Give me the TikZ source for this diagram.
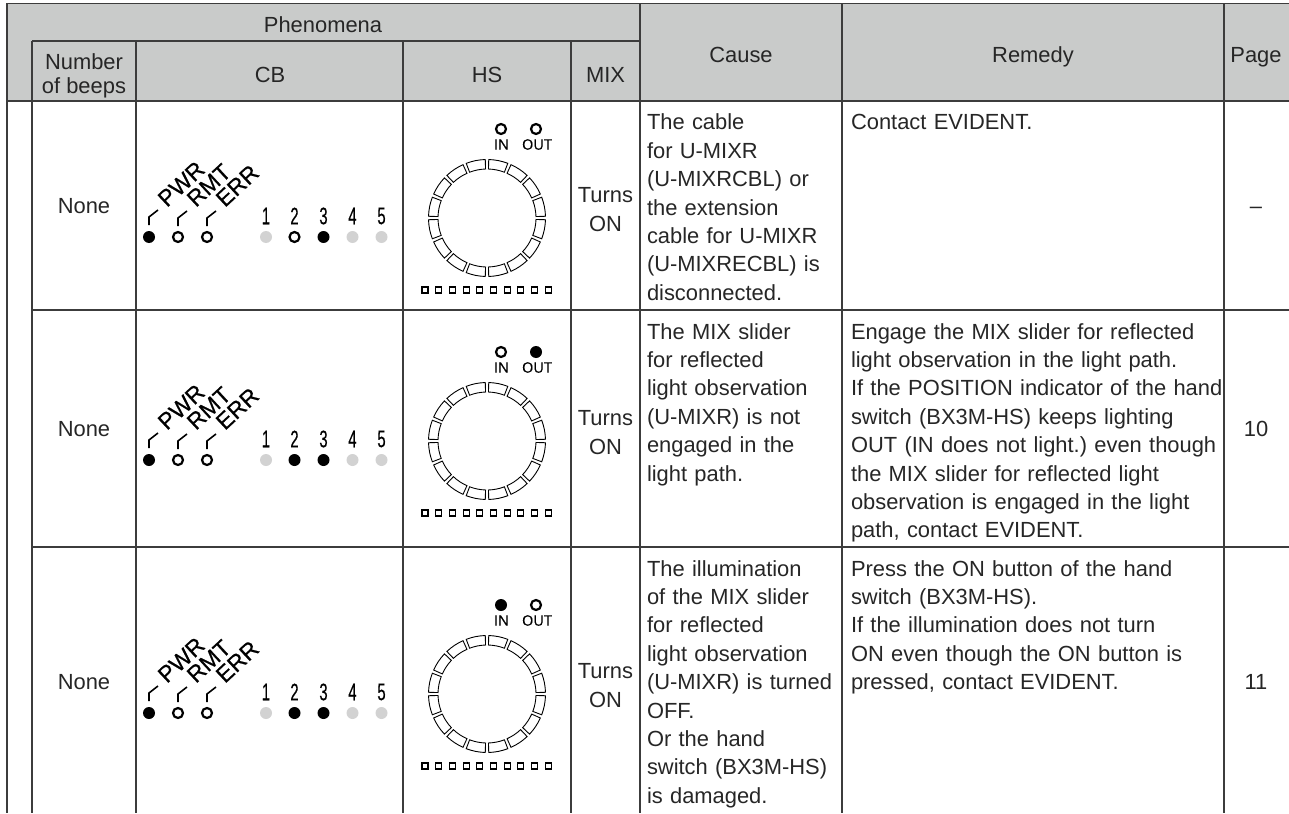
\documentclass[tikz,border=0pt]{standalone}
\usepackage{fontspec}
\setmainfont{Liberation Sans}
\newfontfamily\panelfont[FakeBold=.3]{Open Sans}
\newfontfamily\lampfont[FakeBold=.5]{Liberation Sans}
\definecolor{headgray}{HTML}{C9CBCA}
\definecolor{gridgray}{HTML}{3C3C3C}
\definecolor{inkgray}{HTML}{262626}
\definecolor{dimgray}{HTML}{D2D2D2}

\begin{document}
\frenchspacing
\begin{tikzpicture}[x=1pt, y=-1pt]
	\tikzstyle{every node}=[inner sep=0pt, outer sep=0pt, text=inkgray, font=\fontsize{21.9}{28.4}\selectfont]
	\tikzstyle{cell}=[anchor=base west, text width=190pt, align=left]
	\tikzstyle{widecell}=[anchor=base west, text width=420pt, align=left]
	\tikzstyle{word}=[anchor=base]
	\tikzstyle{ctr}=[anchor=base, align=center]
	\tikzstyle{rule}=[draw=gridgray, line width=1.3pt]
	\tikzstyle{ledon}=[circle, minimum size=12pt, fill=black]
	\tikzstyle{ledoff}=[circle, minimum size=10pt, fill=white, draw=black, line width=2.2pt]
	\tikzstyle{leddim}=[circle, minimum size=12pt, fill=dimgray]
	\tikzstyle{ledname}=[anchor=base west, rotate=43, text=black, font=\lampfont\fontsize{23}{23}\selectfont]
	\tikzstyle{lednum}=[text=black, font=\lampfont\fontsize{24}{24}\selectfont]
	\tikzstyle{hsname}=[text=black, font=\panelfont\fontsize{14.5}{14.5}\selectfont]
	\useasboundingbox (0,0) rectangle (1289,813);
	\fill[headgray] (7,3.5) rectangle (1289,101);

	% grid
	\foreach \x/\t in {7/3.5, 32/41, 136/41, 403/41, 571/41, 640/3.5, 842/3.5, 1224/3.5}
		\draw[rule] (\x,\t) -- (\x,813);
	\foreach \y/\a/\b in {3.5/7/1289, 41/32/640, 101/7/1289, 310/32/1289, 547/32/1289}
		\draw[rule] (\a,\y) -- (\b,\y);

	% header
	\node (phen) [word] at (323,32.7) {Phenomena};
	\node (beeps) [ctr, font=\fontsize{21.9}{23.3}\selectfont] at (84,93.3) {Number\\of beeps};
	\node (cb) [word] at (270,82.5) {CB};
	\node (hs) [word] at (487,82.5) {HS};
	\node (mix) [word] at (605.5,82.5) {MIX};
	\node (cause) [word] at (741,62.5) {Cause};
	\node (remedy) [word] at (1033,62.5) {Remedy};
	\node (page) [word] at (1256,62.5) {Page};

	% one row of panels: row/shift/lamp 2/lamp 3/in/out
	\foreach \r/\dy/\two/\three/\lin/\lout in {1/0/ledoff/ledon/ledoff/ledoff, 2/223/ledon/ledon/ledoff/ledon, 3/476/ledon/ledon/ledon/ledoff} {
		\begin{scope}[shift={(0,\dy)}]
			\node (none\r) [word] at (84,213) {None};
			\node (turns\r) [ctr] at (605.5,231) {Turns\\ON};

			\foreach \name/\x/\st in {PWR/149/ledon, RMT/178/ledoff, ERR/207/ledoff} {
				\node (\name led\r) [\st] at (\x,237) {};
				\draw[black, line width=1.6pt] ([yshift=6pt]\name led\r.north) -- ++(0,-8) -- ++(9,-7);
				\node (\name\r) [ledname] at (\x+18,208) {\name};
			}
			\foreach \n/\x/\st in {1/266/leddim, 2/294.5/\two, 3/323.5/\three, 4/352.5/leddim, 5/381.5/leddim} {
				\node (led\n\r) [\st] at (\x,237) {};
				\node (num\n\r) [lednum] at (\x,216) {\scalebox{.62}[1]{\n}};
			}

			\node (in\r) [\lin] at (501,129) {};
			\node (out\r) [\lout] at (536,129) {};
			\node (inname\r) [hsname] at (501.5,144.5) {IN};
			\node (outname\r) [hsname] at (537,144.5) {OUT};

			\foreach \k in {0,...,15}
				\draw[black, line width=.9pt] ({487+49*cos(22.5*\k+1.7)},{218+49*sin(22.5*\k+1.7)})
					arc[start angle=22.5*\k+1.7, end angle=22.5*\k+20.8, radius=49]
					-- ({487+58.5*cos(22.5*\k+20.8)},{218+58.5*sin(22.5*\k+20.8)})
					arc[start angle=22.5*\k+20.8, end angle=22.5*\k+1.7, radius=58.5] -- cycle;
			\foreach \k in {0,...,9}
				\node (bar\k\r) [draw=black, line width=1.1pt, minimum size=6pt] at (425+13.7*\k,290) {};
		\end{scope}
	}

	% causes
	\node (cause1) [cell] at (647,130) {The cable\\for U-MIXR\\(U-MIXRCBL) or\\the extension\\cable for U-MIXR\\(U-MIXRECBL) is\\disconnected.};
	\node (cause2) [cell] at (647,339) {The MIX slider\\for reflected\\light observation\\(U-MIXR) is not\\engaged in the\\light path.};
	\node (cause3) [cell] at (647,576) {The illumination\\of the MIX slider\\for reflected\\light observation\\(U-MIXR) is turned\\OFF.\\Or the hand\\switch (BX3M-HS)\\is damaged.};

	% remedies
	\node (remedy1) [widecell] at (851,130) {Contact EVIDENT.};
	\node (remedy2) [widecell] at (851,339) {Engage the MIX slider for reflected\\light observation in the light path.\\If the POSITION indicator of the hand\\switch (BX3M-HS) keeps lighting\\OUT (IN does not light.) even though\\the MIX slider for reflected light\\observation is engaged in the light\\path, contact EVIDENT.};
	\node (remedy3) [widecell] at (851,576) {Press the ON button of the hand\\switch (BX3M-HS).\\If the illumination does not turn\\ON even though the ON button is\\pressed, contact EVIDENT.};

	% pages
	\node (page1) [word] at (1256,213) {--};
	\node (page2) [word] at (1256,436) {10};
	\node (page3) [word] at (1256,689) {11};
\end{tikzpicture}
\end{document}
